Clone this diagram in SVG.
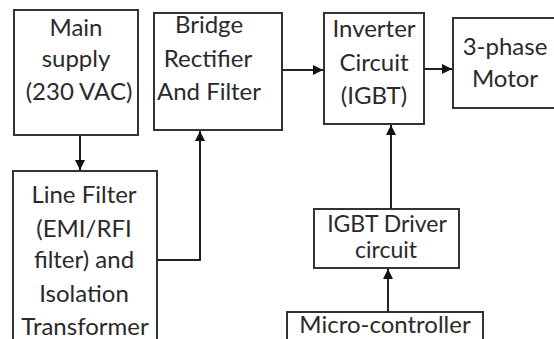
<svg xmlns="http://www.w3.org/2000/svg" width="554" height="339" viewBox="0 0 554 339">
<defs>
<marker id="ah" viewBox="0 0 10 10" refX="10" refY="5" markerWidth="10" markerHeight="11" markerUnits="userSpaceOnUse" orient="auto"><path d="M0,0 L10,5 L0,10 z" fill="#111"/></marker>
</defs>
<style>
.box{fill:#fff;stroke:#333;stroke-width:2}
.t{font-family:Lato,"Liberation Sans",sans-serif;font-size:24px;fill:#2a2a2a;text-anchor:middle}
.s{font-size:23px}
.c{fill:none;stroke:#222;stroke-width:2;marker-end:url(#ah)}
</style>
<rect width="554" height="339" fill="#fff"/>
<g id="main">
<rect class="box" x="14" y="10" width="124" height="125"/>
<text class="t" x="76" y="36">Main</text>
<text class="t" x="76" y="67">supply</text>
<text class="t" x="79" y="100">(230 VAC)</text>
</g>
<g id="bridge">
<rect class="box" x="154" y="13" width="128" height="117"/>
<text class="t" x="209" y="33">Bridge</text>
<text class="t" x="208" y="67">Rectifier</text>
<text class="t" x="209" y="100">And Filter</text>
</g>
<g id="inverter">
<rect class="box" x="324" y="13" width="100" height="111"/>
<text class="t" x="374" y="37">Inverter</text>
<text class="t" x="374" y="71">Circuit</text>
<text class="t" x="374" y="104">(IGBT)</text>
</g>
<g id="motor">
<rect class="box" x="453" y="18" width="110" height="90"/>
<text class="t" x="505" y="55">3-phase</text>
<text class="t" x="505" y="87">Motor</text>
</g>
<g id="linefilter">
<rect class="box" x="13" y="171" width="144" height="180"/>
<text class="t" x="84" y="203">Line Filter</text>
<text class="t" x="84" y="237">(EMI/RFI</text>
<text class="t" x="84" y="268">filter) and</text>
<text class="t" x="84" y="302">Isolation</text>
<text class="t" x="85" y="335">Transformer</text>
</g>
<g id="driver">
<rect class="box" x="314" y="209" width="145" height="59"/>
<text class="t s" x="387" y="232">IGBT Driver</text>
<text class="t s" x="386" y="258">circuit</text>
</g>
<g id="micro">
<rect class="box" x="287" y="312" width="196" height="40"/>
<text class="t" x="385" y="333">Micro-controller</text>
</g>
<g id="connectors">
<path class="c" d="M80,135 V170"/>
<path class="c" d="M157,260 H200 V131"/>
<path class="c" d="M282,70 H323"/>
<path class="c" d="M424,69 H452"/>
<path class="c" d="M391,209 V125"/>
<path class="c" d="M388,312 V269"/>
</g>
</svg>
